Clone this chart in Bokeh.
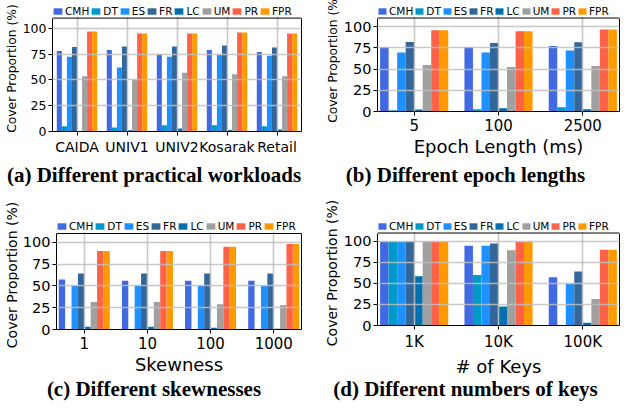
import numpy as np
from bokeh.plotting import figure
from bokeh.models import (Range1d, FixedTicker, Legend, LegendItem, Div, Span,
                          LinearAxis)
from bokeh.layouts import row, column
from bokeh.embed import file_html
from bokeh.resources import INLINE

methods = ["CMH", "DT", "ES", "FR", "LC", "UM", "PR", "FPR"]
colors = ["#4169E1", "#0099C8", "#1E90FF", "#336699", "#0070B0", "#A0A0A0", "#FF6347", "#FF9900"]

# (a) practical workloads
a_cats = ["CAIDA", "UNIV1", "UNIV2", "Kosarak", "Retail"]
a_CMH = [78, 79, 75, 79, 77]
a_DT = [5, 4, 6, 6, 5]
a_ES = [72.5, 62, 72.5, 74.5, 73.5]
a_FR = [82, 82.5, 82.5, 83.5, 81.5]
a_LC = [0, 1.3, 3, 1.5, 2]
a_UM = [53.5, 50.5, 57, 55.5, 53.5]
a_PR = [97, 95, 95, 96, 95]
a_FPR = [97, 95, 95, 96, 95]

# (b) epoch lengths
b_cats = ["5", "100", "2500"]
b_CMH = [76, 76, 77]
b_DT = [1.5, 2.6, 5]
b_ES = [69.5, 69.5, 71.7]
b_FR = [81.7, 80.5, 81.5]
b_LC = [2.5, 3.8, 2.6]
b_UM = [54.7, 52.5, 53.6]
b_PR = [95.6, 94.3, 96.6]
b_FPR = [95.6, 94.3, 96.6]

# (c) skewness
c_cats = ["1", "10", "100", "1000"]
c_CMH = [57.3, 56, 56, 56]
c_DT = [0, 0, 0.5, 0]
c_ES = [50, 50, 50, 50]
c_FR = [64.3, 64.3, 64.3, 64.3]
c_LC = [3.2, 3.2, 2, 1]
c_UM = [31.5, 31.5, 29, 28]
c_PR = [90, 90, 94.8, 98]
c_FPR = [90, 90, 94.8, 98]

# (d) number of keys
d_cats = ["1K", "10K", "100K"]
d_CMH = [100, 95, 57.3]
d_DT = [100, 60, 0]
d_ES = [100, 95, 50]
d_FR = [100, 97.4, 64.3]
d_LC = [58.5, 22.6, 3.2]
d_UM = [100, 89.4, 31.5]
d_PR = [100, 100, 90]
d_FPR = [100, 100, 90]

y_ticks = [0, 25, 50, 75, 100]
Y_MAX = 110
BW = 0.101
LEG_PX = 13


def label_fig(w, h, top, bottom, fs):
    lf = figure(width=w, height=h, output_backend="svg", toolbar_location=None, title=None,
                x_range=Range1d(0, 1), y_range=Range1d(0, 1),
                x_axis_type=None, min_border_left=w - 1, min_border_right=0,
                min_border_top=top, min_border_bottom=bottom)
    lf.outline_line_color = None
    lf.grid.visible = False
    ax = lf.yaxis[0]
    ax.ticker = FixedTicker(ticks=[])
    ax.axis_line_color = None
    ax.major_tick_line_color = None
    ax.minor_tick_line_color = None
    ax.major_tick_out = 0
    ax.major_tick_in = 0
    ax.minor_tick_out = 0
    ax.major_label_standoff = 0
    ax.axis_label = "Cover Proportion (%)"
    ax.axis_label_text_font = "DejaVu Sans"
    ax.axis_label_text_font_style = "normal"
    ax.axis_label_text_font_size = fs
    ax.axis_label_text_color = "black"
    ax.axis_label_standoff = 0
    return lf


def panel(cats, series, xlabel, caption, lab_w, w, fig_h, cap_h, borders, data_h, lab_tb,
          xr, ytick_fs, xtick_fs, leg_glyph_w, lab_fs):
    left, right, top, bottom = borders
    y_end = Y_MAX * (data_h + LEG_PX) / data_h
    p = figure(width=w, height=fig_h, output_backend="svg", toolbar_location=None,
               title=None, x_range=Range1d(*xr), y_range=Range1d(0, y_end),
               min_border_left=left, min_border_right=right,
               min_border_top=top, min_border_bottom=bottom)
    idx = np.arange(len(cats))
    items = []
    for i, (m, col, vals) in enumerate(zip(methods, colors, series)):
        r = p.vbar(x=idx + (i - 3.5) * BW, top=vals, width=BW, bottom=0,
                   fill_color=col, line_color=None)
        items.append(LegendItem(label=m, renderers=[r]))
    p.xaxis.ticker = FixedTicker(ticks=[int(k) for k in idx])
    p.xaxis.major_label_overrides = {int(k): c for k, c in zip(idx, cats)}
    p.yaxis.ticker = FixedTicker(ticks=y_ticks)
    p.yaxis.bounds = (0, Y_MAX)
    for ax in (p.xaxis[0], p.yaxis[0]):
        ax.axis_line_color = "black"
        ax.major_tick_line_color = "black"
        ax.major_tick_out = 4
        ax.major_tick_in = 0
        ax.minor_tick_line_color = None
        ax.major_label_text_font = "DejaVu Sans"
        ax.major_label_text_color = "black"
        ax.axis_label_text_font = "DejaVu Sans"
        ax.axis_label_text_font_style = "normal"
        ax.axis_label_text_color = "black"
    p.yaxis.major_label_standoff = 2
    p.xaxis.major_label_standoff = 3
    p.yaxis.major_label_text_font_size = ytick_fs
    p.xaxis.major_label_text_font_size = xtick_fs
    if xlabel:
        p.xaxis.axis_label = xlabel
        p.xaxis.axis_label_text_font_size = "18px"
        p.xaxis.axis_label_standoff = 2
    rax = LinearAxis(ticker=FixedTicker(ticks=[]), bounds=(0, Y_MAX),
                     axis_line_color="black", major_tick_line_color=None,
                     minor_tick_line_color=None, major_label_standoff=0)
    p.add_layout(rax, "right")
    p.outline_line_color = None
    p.grid.grid_line_color = "#c0c0c0"
    p.grid.grid_line_width = 1.6
    p.grid.grid_line_alpha = 0.85
    p.grid.level = "guide"
    leg = Legend(items=items, orientation="horizontal", location="top_left",
                 label_text_font="DejaVu Sans", label_text_font_size="10.5px",
                 label_text_color="black",
                 glyph_width=leg_glyph_w, glyph_height=8, label_standoff=2, spacing=1,
                 padding=0, margin=0, label_height=8, label_width=0,
                 border_line_color=None, background_fill_color="white",
                 background_fill_alpha=1)
    p.add_layout(leg)
    p.add_layout(Span(location=Y_MAX, dimension="width", line_color="black", line_width=1))
    lf = label_fig(lab_w, fig_h, lab_tb[0], lab_tb[1], lab_fs)
    cap = Div(text=caption, width=lab_w + w, height=cap_h, margin=0,
              styles={"font-family": "'Liberation Serif', serif", "font-weight": "bold",
                      "font-size": "21px", "text-align": "center", "color": "black",
                      "line-height": f"{cap_h}px", "white-space": "nowrap"})
    return column(row(lf, p, spacing=0), cap, spacing=0)


pa = panel(a_cats, [a_CMH, a_DT, a_ES, a_FR, a_LC, a_UM, a_PR, a_FPR], None,
           "(a) Different practical workloads", 19, 289, 164, 22, (30, 7, 1, 33), 117, (5, 15),
           (-0.49, 4.49), "12.5px", "14px", 11, "12.3px")
pb = panel(b_cats, [b_CMH, b_DT, b_ES, b_FR, b_LC, b_UM, b_PR, b_FPR], "Epoch Length (ms)",
           "(b) Different epoch lengths", 32, 283, 164, 22, (34, 4, 1, 53), 97, (5, 15),
           (-0.435, 2.435), "14.5px", "15px", 10, "12.3px")
pc = panel(c_cats, [c_CMH, c_DT, c_ES, c_FR, c_LC, c_UM, c_PR, c_FPR], "Skewness",
           "(c) Different skewnesses", 19, 289, 193, 20, (30, 7, 34, 50), 96, (20, 19),
           (-0.44, 3.44), "14.5px", "15px", 11, "14px")
pd = panel(d_cats, [d_CMH, d_DT, d_ES, d_FR, d_LC, d_UM, d_PR, d_FPR], "# of Keys",
           "(d) Different numbers of keys", 32, 283, 193, 20, (34, 4, 34, 50), 96, (20, 19),
           (-0.435, 2.435), "14.5px", "15px", 10, "14px")

layout = column(row(pa, pb, spacing=0), row(pc, pd, spacing=0), spacing=0)
open("out.html", "w").write(file_html(layout, INLINE))
